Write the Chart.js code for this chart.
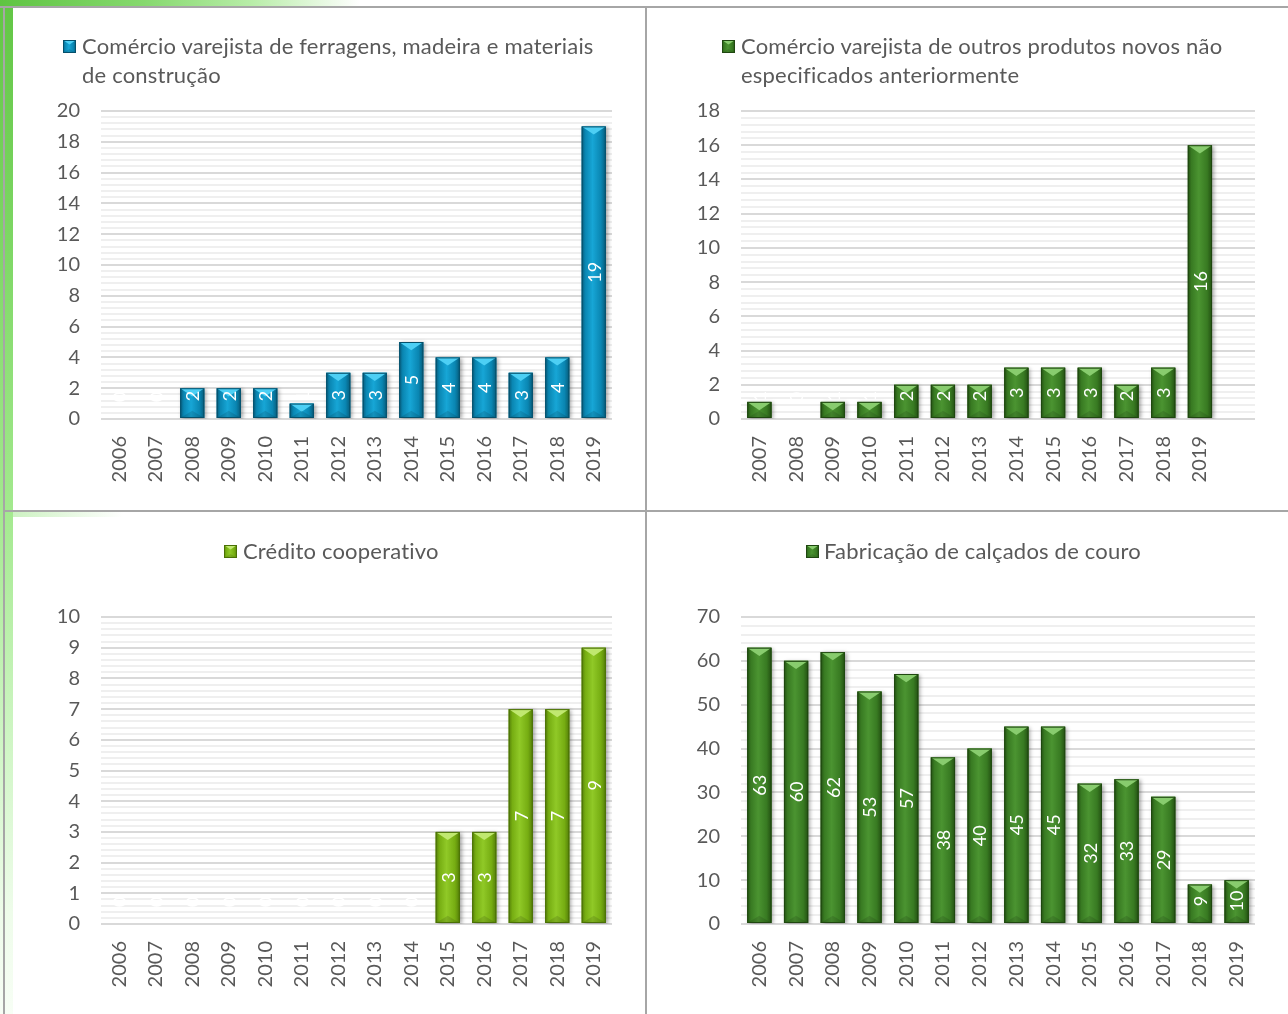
<!DOCTYPE html>
<html><head><meta charset="utf-8">
<script src="https://cdn.jsdelivr.net/npm/chart.js@4.4.0/dist/chart.umd.min.js"></script>
<style>
html,body{margin:0;padding:0;background:#fff;}
body{width:1288px;height:1014px;position:relative;overflow:hidden;font-family:Lato,'Open Sans',sans-serif;}
.abs{position:absolute;}
canvas{position:absolute;}
.legend{position:absolute;font-size:22px;letter-spacing:0.2px;line-height:29px;color:#595959;white-space:nowrap;}
</style></head><body>
<div class="abs" style="left:0;top:0;width:13px;height:1014px;background:linear-gradient(to bottom,#62c645 0%,#7fd866 25%,#a3e98e 50%,#cdf5c2 72%,#eefcea 90%,#f7fef5 100%);"></div>
<div class="abs" style="left:0;top:0;width:360px;height:7px;background:linear-gradient(to right,#5fc442 0%,#86d96e 40%,#b8eda8 70%,#ffffff 100%);"></div>
<div class="abs" style="left:13px;top:511px;width:110px;height:6px;background:linear-gradient(to right,#cdf2c2,#ffffff);"></div>
<div class="abs" style="left:0;top:6px;width:1288px;height:2px;background:#a6a6a6;"></div>
<div class="abs" style="left:3px;top:6px;width:2px;height:1008px;background:#a6a6a6;"></div>
<div class="abs" style="left:645px;top:6px;width:2px;height:1008px;background:#a6a6a6;"></div>
<div class="abs" style="left:3px;top:510px;width:1285px;height:2px;background:#a6a6a6;"></div>

<canvas id="c1" width="632" height="501" style="left:13px;top:9px;"></canvas>
<canvas id="c2" width="640" height="501" style="left:648px;top:9px;"></canvas>
<canvas id="c3" width="632" height="501" style="left:13px;top:513px;"></canvas>
<canvas id="c4" width="640" height="501" style="left:648px;top:513px;"></canvas>

<canvas id="m1" width="13" height="13" style="left:63px;top:40px;"></canvas>
<div class="legend" style="left:82px;top:31px;">Comércio varejista de ferragens, madeira e materiais<br>de construção</div>
<canvas id="m2" width="13" height="13" style="left:722px;top:40px;"></canvas>
<div class="legend" style="left:741px;top:31px;">Comércio varejista de outros produtos novos não<br>especificados anteriormente</div>
<canvas id="m3" width="13" height="13" style="left:224px;top:545px;"></canvas>
<div class="legend" style="left:243px;top:536px;">Crédito cooperativo</div>
<canvas id="m4" width="13" height="13" style="left:806px;top:545px;"></canvas>
<div class="legend" style="left:824px;top:536px;">Fabricação de calçados de couro</div>

<script>
// ---- data ----
const years = ['2006','2007','2008','2009','2010','2011','2012','2013','2014','2015','2016','2017','2018','2019'];
const yearsOutros = ['2007','2008','2009','2010','2011','2012','2013','2014','2015','2016','2017','2018','2019',''];
const ferragens = [0,0,2,2,2,1,3,3,5,4,4,3,4,19];
const outrosProdutos = [1,0,1,1,2,2,2,3,3,3,2,3,16,null];
const credito = [0,0,0,0,0,0,0,0,0,3,3,7,7,9];
const calcados = [63,60,62,53,57,38,40,45,45,32,33,29,9,10];
const yMaxes = [20,18,10,70];
const ySteps = [2,2,1,10];

const FONT = 'Lato, "Open Sans", sans-serif';
const palBlue = {base:'#0a86b2', light:'#17a6d6', dark:'#065b7a', tri:'#4dcff4', line:'#05506b'};
const palDark = {base:'#387a22', light:'#4b9431', dark:'#235012', tri:'#88cc6e', line:'#1f4710'};
const palLight= {base:'#76ad12', light:'#90c927', dark:'#547e08', tri:'#c0e870', line:'#4a7006'};

function paintBar(ctx, left, right, top, bottom, pal){
  const w = right-left, h = bottom-top;
  if (h <= 0) return;
  const g = ctx.createLinearGradient(left,0,right,0);
  g.addColorStop(0,pal.dark); g.addColorStop(0.15,pal.base); g.addColorStop(0.45,pal.light);
  g.addColorStop(0.8,pal.base); g.addColorStop(1,pal.dark);
  ctx.fillStyle = g; ctx.fillRect(left,top,w,h);
  const th = Math.min(w*0.34, h);
  ctx.beginPath(); ctx.moveTo(left,top); ctx.lineTo(right,top); ctx.lineTo((left+right)/2, top+th); ctx.closePath();
  ctx.fillStyle = pal.tri; ctx.fill();
  const bh = Math.min(w*0.3, h/2);
  ctx.beginPath(); ctx.moveTo(left,bottom); ctx.lineTo(right,bottom); ctx.lineTo((left+right)/2, bottom-bh); ctx.closePath();
  ctx.fillStyle = 'rgba(0,0,0,0.12)'; ctx.fill();
  ctx.strokeStyle = pal.line; ctx.lineWidth = 1; ctx.strokeRect(left+0.5, top+0.5, w-1, h-1);
}

const barStyle = {
  id:'barStyle',
  beforeDatasetsDraw(chart, args, opts){
    const ctx = chart.ctx, ys = chart.scales.y, a = chart.chartArea;
    ctx.save();
    ctx.strokeStyle = '#efefef'; ctx.lineWidth = 2;
    const minor = opts.major/5;
    for (let i = 0; i*minor <= opts.max + 1e-9; i++){
      if (i % 5 === 0) continue;
      const py = Math.round(ys.getPixelForValue(i*minor));
      ctx.beginPath(); ctx.moveTo(a.left, py); ctx.lineTo(a.right, py); ctx.stroke();
    }
    ctx.restore();
    ctx.save();
    ctx.shadowColor = 'rgba(0,0,0,0.35)'; ctx.shadowBlur = 4; ctx.shadowOffsetX = 2; ctx.shadowOffsetY = 1;
  },
  afterDatasetsDraw(chart, args, opts){
    const ctx = chart.ctx;
    ctx.restore();
    const meta = chart.getDatasetMeta(0);
    const data = chart.data.datasets[0].data;
    meta.data.forEach((el, i) => {
      if (data[i] === null || data[i] === undefined) return;
      const left = el.x - el.width/2, right = el.x + el.width/2;
      paintBar(ctx, left, right, el.y, el.base, opts.pal);
    });
    meta.data.forEach((el, i) => {
      if (data[i] === null || data[i] === undefined) return;
      const cy = Math.min((el.y + el.base)/2, el.base - 22);
      ctx.save();
      ctx.translate(el.x, cy);
      ctx.rotate(-Math.PI/2);
      ctx.fillStyle = '#ffffff';
      ctx.font = '18px ' + FONT;
      ctx.textAlign = 'center'; ctx.textBaseline = 'middle';
      ctx.fillText(String(data[i]), 0, 1);
      ctx.restore();
    });
  }
};

function makeChart(id, labels, data, pal, yMax, yStep, g){
  return new Chart(document.getElementById(id), {
    type:'bar',
    data:{labels:labels, datasets:[{data:data, backgroundColor:pal.base, borderWidth:0, barPercentage:0.66, categoryPercentage:1}]},
    options:{
      responsive:false, animation:false, devicePixelRatio:1,
      layout:{padding:{top:g.top, right:g.right, left:0, bottom:0}},
      plugins:{legend:{display:false}, tooltip:{enabled:false}, barStyle:{pal:pal, max:yMax, major:yStep}},
      scales:{
        x:{grid:{display:false, drawTicks:false}, border:{display:false},
           ticks:{color:'#595959', font:{family:FONT, size:20}, minRotation:90, maxRotation:90, autoSkip:false, padding:g.xpad},
           afterFit(s){ s.height = g.xh; }},
        y:{min:0, max:yMax, grid:{color:'#d9d9d9', lineWidth:2, drawTicks:false}, border:{display:false},
           ticks:{stepSize:yStep, color:'#595959', font:{family:FONT, size:20}, padding:g.ypad},
           afterFit(s){ s.width = g.yw; }}
      }
    },
    plugins:[barStyle]
  });
}

makeChart('c1', years, ferragens, palBlue, yMaxes[0], ySteps[0], {top:102, right:33, xh:91, yw:88, ypad:21, xpad:17});
makeChart('c2', yearsOutros, outrosProdutos, palDark, yMaxes[1], ySteps[1], {top:102, right:33, xh:91, yw:93, ypad:21, xpad:17});
makeChart('c3', years, credito, palLight, yMaxes[2], ySteps[2], {top:104, right:33, xh:90, yw:88, ypad:21, xpad:17});
makeChart('c4', years, calcados, palDark, yMaxes[3], ySteps[3], {top:104, right:33, xh:90, yw:93, ypad:21, xpad:17});

[['m1',palBlue],['m2',palDark],['m3',palLight],['m4',palDark]].forEach(([id,p])=>{
  const ctx = document.getElementById(id).getContext('2d');
  paintBar(ctx, 0, 13, 0, 13, p);
});
</script>
</body></html>
